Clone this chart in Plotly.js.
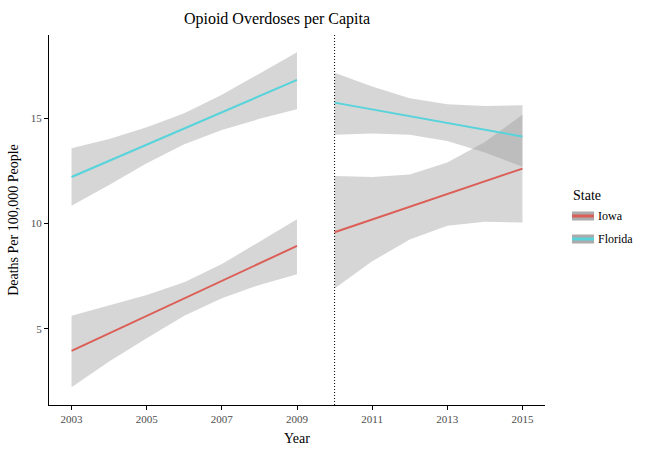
<!DOCTYPE html>
<html>
<head>
<meta charset="utf-8">
<script src="https://cdn.plot.ly/plotly-3.0.1.min.js"></script>
<style>html,body{margin:0;padding:0;background:#fff;}#chart{width:660px;height:453px;}</style>
</head>
<body>
<div id="chart"></div>
<script>
// ---- data ----
const preYears  = [2003, 2004, 2005, 2006, 2007, 2008, 2009];
const postYears = [2010, 2011, 2012, 2013, 2014, 2015];

const iowaPreFitEnds     = [3.96, 8.94];      // fitted at 2003, 2009
const floridaPreFitEnds  = [12.21, 16.82];
const iowaPostFitEnds    = [9.59, 12.61];     // fitted at 2010, 2015
const floridaPostFitEnds = [15.74, 14.13];

const iowaPreUpper    = [5.62, 6.11, 6.61, 7.21, 8.08, 9.14, 10.20];
const iowaPreLower    = [2.23, 3.45, 4.56, 5.62, 6.46, 7.09, 7.60];
const floridaPreUpper = [13.58, 14.01, 14.57, 15.24, 16.11, 17.14, 18.13];
const floridaPreLower = [10.85, 11.83, 12.86, 13.77, 14.44, 14.97, 15.43];

const iowaPostUpper    = [12.26, 12.21, 12.33, 12.90, 13.87, 15.17];
const iowaPostLower    = [6.92, 8.21, 9.24, 9.90, 10.09, 10.05];
const floridaPostUpper = [17.16, 16.50, 15.95, 15.66, 15.58, 15.62];
const floridaPostLower = [14.22, 14.27, 14.21, 13.92, 13.37, 12.70];

const states = ['Iowa', 'Florida'];
const xTicks = [2003, 2005, 2007, 2009, 2011, 2013, 2015];
const yTicks = [5, 10, 15];
const cutYear = 2010;

// ---- styles ----
const colors = {Iowa: '#db5f57', Florida: '#57d3db'};
const ribbonFill = 'rgba(153,153,153,0.4)';
const serif = 'Liberation Serif, Times New Roman, serif';

function ribbon(xs, up, lo) {
  return {
    x: xs.concat(xs.slice().reverse()),
    y: up.concat(lo.slice().reverse()),
    type: 'scatter', mode: 'lines', fill: 'toself',
    fillcolor: ribbonFill, line: {width: 0}, hoverinfo: 'skip', showlegend: false
  };
}
function fitLine(xs, ends, color) {
  return {
    x: [xs[0], xs[xs.length - 1]], y: ends,
    type: 'scatter', mode: 'lines', line: {color: color, width: 2},
    showlegend: false
  };
}

const traces = [
  ribbon(preYears, iowaPreUpper, iowaPreLower),
  ribbon(preYears, floridaPreUpper, floridaPreLower),
  ribbon(postYears, iowaPostUpper, iowaPostLower),
  ribbon(postYears, floridaPostUpper, floridaPostLower),
  fitLine(preYears, iowaPreFitEnds, colors.Iowa),
  fitLine(preYears, floridaPreFitEnds, colors.Florida),
  fitLine(postYears, iowaPostFitEnds, colors.Iowa),
  fitLine(postYears, floridaPostFitEnds, colors.Florida)
];

// manual legend (ggplot-style keys)
const L = 49, R = 545, T = 35, B = 405;
const px = v => (v - L) / (R - L);
const py = v => (B - v) / (B - T);
const shapes = [{
  type: 'line', xref: 'x', yref: 'paper', x0: cutYear, x1: cutYear, y0: 0, y1: 1,
  line: {color: '#000', width: 1, dash: '1px,2px'}
}];
const annotations = [{
  xref: 'paper', yref: 'paper', x: px(571), y: py(195), xanchor: 'left', yanchor: 'middle',
  text: 'State', showarrow: false, font: {family: serif, size: 14, color: '#000'}
}];
const keyY = [216, 239];
states.forEach((s, i) => {
  shapes.push({type: 'rect', xref: 'paper', yref: 'paper', x0: px(572), x1: px(594),
    y0: py(keyY[i] + 4.5), y1: py(keyY[i] - 4.5), fillcolor: '#ababab', line: {width: 0}});
  shapes.push({type: 'line', xref: 'paper', yref: 'paper', x0: px(572), x1: px(594),
    y0: py(keyY[i]), y1: py(keyY[i]), line: {color: colors[s], width: 3}});
  annotations.push({xref: 'paper', yref: 'paper', x: px(596), y: py(keyY[i]),
    xanchor: 'left', yanchor: 'middle', text: s, showarrow: false,
    font: {family: serif, size: 12, color: '#000'}});
});

const layout = {
  width: 660, height: 453,
  margin: {l: L, r: 660 - R, t: T, b: 453 - B},
  paper_bgcolor: '#fff', plot_bgcolor: '#fff',
  font: {family: serif, color: '#000'},
  title: {text: 'Opioid Overdoses per Capita', x: 277 / 660, xref: 'container', xanchor: 'center',
          y: 1 - 18 / 453, yanchor: 'middle', font: {family: serif, size: 16, color: '#000'}},
  xaxis: {
    range: [2002.4, 2015.6], tickvals: xTicks, ticktext: xTicks.map(String),
    ticks: 'outside', ticklen: 4, tickcolor: '#000', tickwidth: 1,
    showline: true, linecolor: '#000', linewidth: 1, showgrid: false, zeroline: false,
    tickfont: {family: serif, size: 11, color: '#4d4d4d'},
    title: {text: 'Year', font: {family: serif, size: 14, color: '#000'}, standoff: 8}
  },
  yaxis: {
    range: [1.39, 18.95], tickvals: yTicks, ticktext: yTicks.map(String),
    ticks: 'outside', ticklen: 4, tickcolor: '#000', tickwidth: 1,
    showline: true, linecolor: '#000', linewidth: 1, showgrid: false, zeroline: false,
    tickfont: {family: serif, size: 11, color: '#4d4d4d'},
    title: {text: 'Deaths Per 100,000 People', font: {family: serif, size: 14, color: '#000'}, standoff: 8}
  },
  shapes: shapes, annotations: annotations, showlegend: false
};

Plotly.newPlot('chart', traces, layout, {staticPlot: true, displayModeBar: false});
</script>
</body>
</html>
